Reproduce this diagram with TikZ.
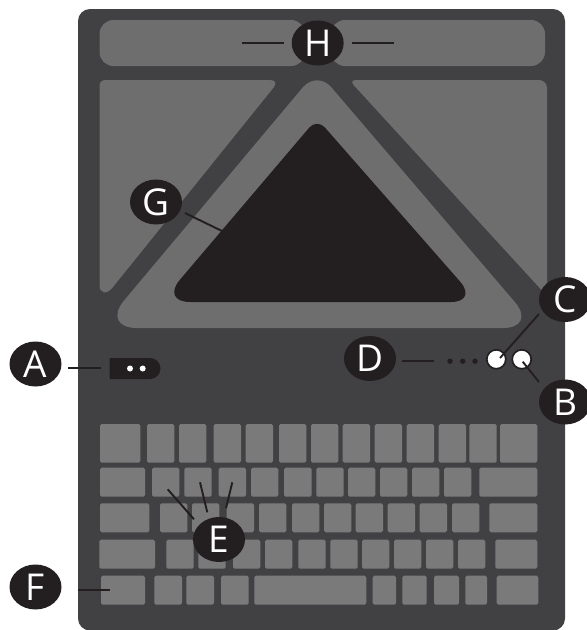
\documentclass[tikz,border=0pt]{standalone}
\usepackage{fontspec}
\setmainfont{Open Sans}
\usetikzlibrary{shapes.geometric}
\definecolor{bodyc}{HTML}{414042}
\definecolor{panelc}{HTML}{6E6E6F}
\definecolor{keyc}{HTML}{7A7A7B}
\definecolor{inkc}{HTML}{231F20}
\tikzset{
  tag/.style={ellipse,fill=inkc,text=white,minimum width=52pt,minimum height=45pt,inner sep=0pt,font=\fontsize{37}{37}\selectfont},
  lead/.style={draw=inkc,line width=1.9pt},
  panel/.style={fill=panelc},
  dot/.style={circle,fill=inkc,minimum size=5.4pt,inner sep=0pt},
  wdot/.style={circle,fill=white,minimum size=6pt,inner sep=0pt},
  knob/.style={circle,fill=white,draw=inkc,line width=1.7pt,minimum size=19pt,inner sep=0pt},
  keycap/.style={fill=keyc,rounded corners=1.6pt}
}
\newcommand{\keyrow}[3]{\foreach \a/\b in {#3}{\path[keycap] (\a,#1) rectangle (\b,#2);}}
\begin{document}
\begin{tikzpicture}[x=1pt,y=-1pt]
\useasboundingbox (0,0) rectangle (587,630);
% body
\fill[bodyc,rounded corners=12pt] (78,9) rectangle (565,630.5);
% top bars
\fill[panel,rounded corners=14pt] (99.5,20) rectangle (305,66);
\fill[panel,rounded corners=14pt] (331,20) rectangle (545,66);
% side panels
\fill[panel] (99.5,86) .. controls (99.5,82) and (102,80) .. (106,80) -- (270,80) .. controls (275,80) and (277,83) .. (274,87) -- (113,287) .. controls (107,295) and (99.5,294) .. (99.5,285) -- cycle;
\fill[panel] (445,80) [rounded corners=7pt] -- (349,80) [rounded corners=0pt] -- (547,296) [rounded corners=8pt] -- (547,80) -- cycle;
% touch area
\fill[panel] (317,328) [rounded corners=36pt] -- (101,328) [rounded corners=22pt] -- (317,70.5) [rounded corners=34pt] -- (537,328) [rounded corners=0pt] -- cycle;
\fill[inkc] (317,302) [rounded corners=29pt] -- (161,302) [rounded corners=12pt] -- (317,118.5) [rounded corners=27pt] -- (478,302) [rounded corners=0pt] -- cycle;
% keys
\keyrow{424}{462.7}{100/140.3,147/174.3,179/206.3,213.7/241,245.7/273,279/306.3,311/338.3,342.7/370,374.7/402,406.7/434,438.7/466,469.3/496.7,500/537.3}
\keyrow{467.7}{496.7}{100/145,152/179.3,184.3/211.7,218.7/246,251/278.3,284/311.7,316.3/343.7,348/375.3,380/407.3,412/439.3,444/471.3,479.3/537.3}
\keyrow{503.3}{532.3}{100/149.3,160/187.3,192/219.3,226.7/254,259/286.3,292/319.3,324/351.3,355.7/383,387.7/415,419.7/447,452/479.3,489.3/537.3}
\keyrow{539.7}{568.7}{99.3/155,166.3/193.7,198.3/225.7,233/260.3,265/292.3,298.3/325.7,330.3/357.7,362/389.3,394/421.3,426/453.3,458/485.3,495.3/537.3}
\keyrow{575.7}{604.7}{101/145,154.3/182,186.3/214,221/248.7,254.3/366.3,372.7/396,402.3/426.7,434/459,465.3/487,496.7/538.3}
% pill and dots
\fill[inkc,rounded corners=0pt] (109.5,358) -- (150,358) arc[start angle=-90,end angle=90,radius=10.5] -- (109.5,379) -- cycle;
\node[wdot] (pa) at (130,368.5) {};
\node[wdot] (pb) at (142.7,368.5) {};
\node[dot] (da) at (450,361.2) {};
\node[dot] (db) at (462.7,361.2) {};
\node[dot] (dc) at (475,361.2) {};
\node[knob] (kc) at (496.3,359.3) {};
\node[knob] (kb) at (521.7,359.3) {};
% free ends
\coordinate (hl) at (241.7,43);
\coordinate (hr) at (394,43);
\coordinate (g1) at (222,231);
\coordinate (a1) at (101,367.7);
\coordinate (d1) at (434,361.3);
\coordinate (c1) at (500,358);
\coordinate (b1) at (522.7,361.7);
\coordinate (e1) at (167.7,489.3);
\coordinate (e2) at (200,482.3);
\coordinate (e3) at (232.3,482.3);
\coordinate (f1) at (110,590.3);
% labels
\node[tag] (A) at (35.5,364) {A};
\node[tag] (B) at (565,402) {B};
\node[tag] (C) at (565,299.5) {C};
\node[tag] (D) at (370,358.5) {D};
\node[tag] (E) at (219,539.5) {E};
\node[tag] (F) at (35.5,587) {F};
\node[tag] (G) at (156,202) {G};
\node[tag] (H) at (317.7,43) {H};
% leaders
\draw[lead] ([shift={(-33.7,0)}]H.center) -- (hl);
\draw[lead] ([shift={(34.3,0)}]H.center) -- (hr);
\draw[lead] ([shift={(29,11)}]G.center) -- (g1);
\draw[lead] ([shift={(32.5,3.7)}]A.center) -- (a1);
\draw[lead] ([shift={(32,2.8)}]D.center) -- (d1);
\draw[lead] ([shift={(-26,14.5)}]C.center) -- (c1);
\draw[lead] ([shift={(-26,-20)}]B.center) -- (b1);
\draw[lead] ([shift={(-25,-20.2)}]E.center) -- (e1);
\draw[lead] ([shift={(-11.7,-27.2)}]E.center) -- (e2);
\draw[lead] ([shift={(7,-31.2)}]E.center) -- (e3);
\draw[lead] ([shift={(42.5,3.3)}]F.center) -- (f1);
\end{tikzpicture}
\end{document}
